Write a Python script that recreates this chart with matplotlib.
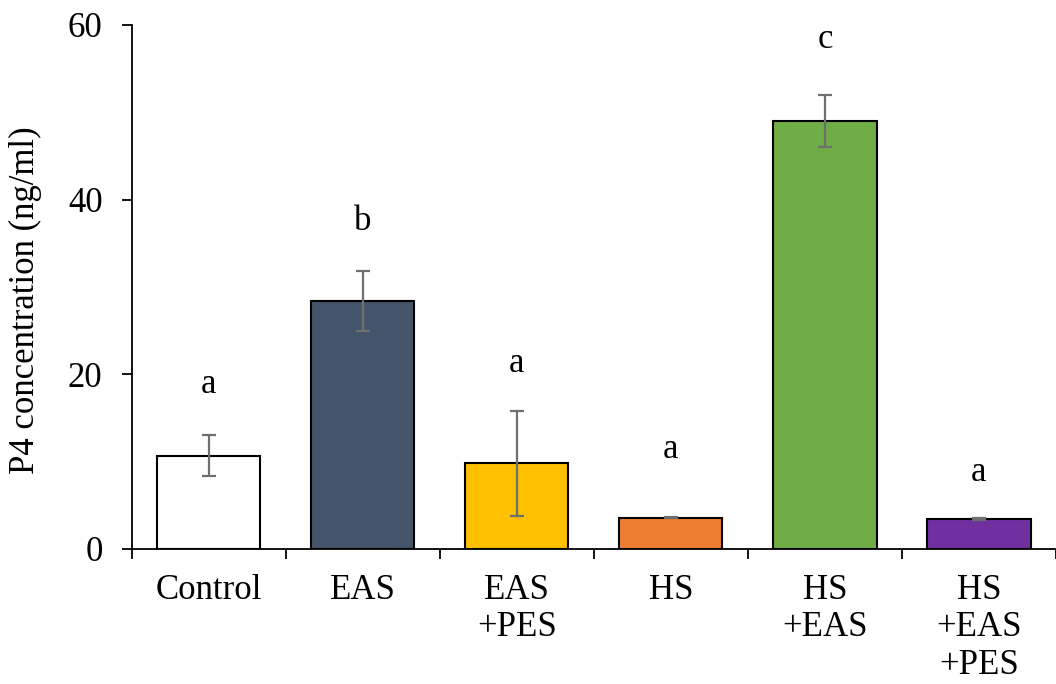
import numpy as np
import matplotlib.pyplot as plt

# data
groups = ["Control", "EAS", "EAS\n+PES", "HS", "HS\n+EAS", "HS\n+EAS\n+PES"]
p4_mean = [10.7, 28.4, 9.8, 3.6, 49.0, 3.4]
p4_err = [2.4, 3.4, 6.0, 0.1, 3.0, 0.1]
letters = ["a", "b", "a", "a", "c", "a"]
letter_y = [18.8, 37.5, 21.2, 11.4, 58.3, 8.8]
colors = ["#FFFFFF", "#44546A", "#FFC000", "#ED7D31", "#70AD47", "#7030A0"]

plt.rcParams["font.family"] = ["Liberation Serif", "DejaVu Serif"]
fs = 25

fig = plt.figure(figsize=(10.56, 6.84), dpi=100)
ax = fig.add_axes([0.1247, 0.1974, 0.8753, 0.7661])

x = np.arange(len(groups))
ax.bar(x, p4_mean, width=0.67, color=colors, edgecolor="black", linewidth=1.5, zorder=2)
ax.errorbar(x, p4_mean, yerr=p4_err, fmt="none", ecolor="#6f6f6f",
            elinewidth=1.6, capsize=5, capthick=1.6, zorder=3)

for xi, lab, ly in zip(x, letters, letter_y):
    ax.text(xi, ly, lab, ha="center", va="center", fontsize=fs)

ax.set_xlim(-0.5, len(groups) - 0.5)
ax.set_ylim(0, 60)
ax.set_yticks([0, 20, 40, 60])
ax.set_ylabel("P4 concentration (ng/ml)", fontsize=fs)
ax.yaxis.set_label_coords(-0.097, 0.475)

# boundary ticks on x, labels centred under bars
ax.set_xticks(np.arange(len(groups) + 1) - 0.5)
ax.set_xticklabels([])
ax.set_xticks(x, minor=True)
ax.set_xticklabels(groups, minor=True, fontsize=fs, linespacing=1.18)
ax.tick_params(axis="x", which="major", direction="out", length=7, width=1.3)
ax.tick_params(axis="x", which="minor", length=0, pad=18)
ax.tick_params(axis="y", direction="out", length=7, width=1.3, labelsize=fs, pad=14)

for s in ["top", "right"]:
    ax.spines[s].set_visible(False)
for s in ["left", "bottom"]:
    ax.spines[s].set_linewidth(1.3)

fig.savefig("out.png", dpi=100)
